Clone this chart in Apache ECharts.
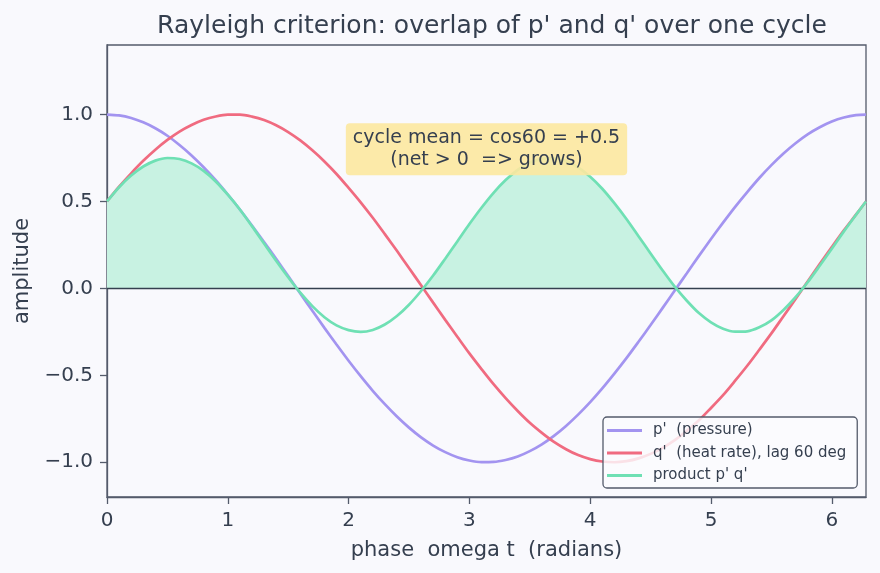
<!DOCTYPE html>
<html>
<head>
<meta charset="utf-8">
<script src="https://cdn.jsdelivr.net/npm/echarts@6/dist/echarts.min.js"></script>
<style>
  html, body { margin: 0; padding: 0; background: #f9f9fd; }
  #chart { width: 880px; height: 573px; }
</style>
</head>
<body>
<div id="chart"></div>
<script>
// phase samples (radians) and values
const phase = [0, 0.1, 0.2, 0.3, 0.4, 0.5, 0.6, 0.7, 0.8, 0.9, 1.0, 1.1, 1.2, 1.3, 1.4, 1.5,
  1.6, 1.7, 1.8, 1.9, 2.0, 2.1, 2.2, 2.3, 2.4, 2.5, 2.6, 2.7, 2.8, 2.9, 3.0, 3.1,
  3.2, 3.3, 3.4, 3.5, 3.6, 3.7, 3.8, 3.9, 4.0, 4.1, 4.2, 4.3, 4.4, 4.5, 4.6, 4.7,
  4.8, 4.9, 5.0, 5.1, 5.2, 5.3, 5.4, 5.5, 5.6, 5.7, 5.8, 5.9, 6.0, 6.1, 6.2, 6.283];
const pressure = [1.000, 0.995, 0.980, 0.955, 0.921, 0.878, 0.825, 0.765, 0.697, 0.622, 0.540,
  0.454, 0.362, 0.267, 0.170, 0.071, -0.029, -0.129, -0.227, -0.323, -0.416, -0.505,
  -0.589, -0.666, -0.737, -0.801, -0.857, -0.904, -0.942, -0.971, -0.990, -0.999,
  -0.998, -0.987, -0.967, -0.936, -0.897, -0.848, -0.791, -0.726, -0.654, -0.575,
  -0.490, -0.401, -0.307, -0.211, -0.112, -0.012, 0.087, 0.187, 0.284, 0.378,
  0.469, 0.554, 0.635, 0.709, 0.776, 0.835, 0.886, 0.927, 0.960, 0.983, 0.997, 1.000];
const heatRate = [0.500, 0.585, 0.662, 0.734, 0.798, 0.854, 0.902, 0.940, 0.970, 0.989, 0.999,
  0.999, 0.988, 0.968, 0.938, 0.899, 0.851, 0.794, 0.730, 0.658, 0.578, 0.495,
  0.406, 0.312, 0.216, 0.117, 0.018, -0.082, -0.181, -0.278, -0.374, -0.464,
  -0.551, -0.631, -0.705, -0.773, -0.831, -0.883, -0.925, -0.959, -0.982, -0.996,
  -1.000, -0.994, -0.978, -0.952, -0.917, -0.873, -0.819, -0.759, -0.688, -0.614,
  -0.531, -0.445, -0.353, -0.259, -0.160, -0.061, 0.040, 0.140, 0.238, 0.334, 0.424, 0.500];
const product = [0.500, 0.582, 0.649, 0.701, 0.735, 0.750, 0.744, 0.719, 0.676, 0.615, 0.539,
  0.454, 0.358, 0.258, 0.159, 0.064, -0.025, -0.102, -0.166, -0.213, -0.240, -0.250,
  -0.239, -0.208, -0.159, -0.094, -0.015, 0.074, 0.171, 0.270, 0.370, 0.464,
  0.550, 0.623, 0.682, 0.724, 0.745, 0.749, 0.732, 0.696, 0.642, 0.573,
  0.490, 0.399, 0.300, 0.201, 0.103, 0.010, -0.071, -0.142, -0.195, -0.232,
  -0.249, -0.247, -0.224, -0.184, -0.124, -0.051, 0.035, 0.130, 0.228, 0.328, 0.423, 0.500];

const seriesNames = ["p'  (pressure)", "q'  (heat rate), lag 60 deg", "product p' q'"];
const xTicks = [0, 1, 2, 3, 4, 5, 6];
const yTicks = [-1, -0.5, 0, 0.5, 1];
const noteLines = ['cycle mean = cos60 = +0.5', '(net > 0  => grows)'];
const notePos = [3.1416, 0.80];

const FONT = 'DejaVu Sans';
const TEXT = '#353f4f';
const AXIS = '#545b6b';
const FILL = '#c8f2e2';

const pairs = ys => phase.map((x, i) => [x, ys[i]]);
const fmtY = v => (v < 0 ? '\u2212' : '') + Math.abs(v).toFixed(1);

const chart = echarts.init(document.getElementById('chart'));

chart.setOption({
  backgroundColor: '#f9f9fd',
  animation: false,
  textStyle: { fontFamily: FONT, color: TEXT },
  title: {
    text: "Rayleigh criterion: overlap of p' and q' over one cycle",
    left: 487,
    textAlign: 'center',
    top: 9,
    textStyle: { fontFamily: FONT, fontSize: 25, fontWeight: 'normal', color: TEXT }
  },
  grid: {
    left: 107, right: 14, top: 45, bottom: 76,
    show: true,
    borderColor: AXIS,
    borderWidth: 1.3,
    backgroundColor: 'transparent'
  },
  legend: {
    data: seriesNames,
    orient: 'vertical',
    left: 603,
    top: 417,
    z: 10,
    padding: [6, 11, 5, 4],
    itemGap: 7.5,
    itemWidth: 35,
    itemHeight: 3,
    icon: 'rect',
    backgroundColor: 'rgba(251,251,254,0.82)',
    borderColor: AXIS,
    borderWidth: 1.3,
    borderRadius: 4,
    textStyle: { fontFamily: FONT, fontSize: 15, color: TEXT, padding: [0, 0, 0, 6] }
  },
  xAxis: {
    type: 'value',
    min: 0,
    max: 6.2832,
    name: 'phase  omega t  (radians)',
    nameLocation: 'middle',
    nameGap: 43,
    nameTextStyle: { fontFamily: FONT, fontSize: 21, color: TEXT },
    axisLine: { show: true, onZero: false, lineStyle: { color: AXIS, width: 1.3 } },
    axisTick: { show: true, length: 7, customValues: xTicks, lineStyle: { color: AXIS, width: 1.3 } },
    axisLabel: { customValues: xTicks, fontFamily: FONT, fontSize: 20, color: TEXT, margin: 14 },
    splitLine: { show: false }
  },
  yAxis: {
    type: 'value',
    min: -1.2,
    max: 1.4,
    name: 'amplitude',
    nameLocation: 'middle',
    nameGap: 70,
    nameTextStyle: { fontFamily: FONT, fontSize: 21, color: TEXT },
    axisLine: { show: true, onZero: false, lineStyle: { color: AXIS, width: 1.3 } },
    axisTick: { show: true, length: 7, customValues: yTicks, lineStyle: { color: AXIS, width: 1.3 } },
    axisLabel: { customValues: yTicks, formatter: fmtY, fontFamily: FONT, fontSize: 20, color: TEXT, margin: 14 },
    splitLine: { show: false }
  },
  series: [
    {
      name: 'fill',
      type: 'line',
      data: pairs(product),
      smooth: 0.3,
      symbol: 'none',
      silent: true,
      lineStyle: { width: 0 },
      areaStyle: { color: FILL, opacity: 1 },
      z: 1
    },
    {
      name: seriesNames[0],
      type: 'line',
      data: pairs(pressure),
      smooth: 0.3,
      symbol: 'none',
      color: '#a394f0',
      lineStyle: { width: 2.7, color: '#a394f0' },
      z: 3
    },
    {
      name: seriesNames[1],
      type: 'line',
      data: pairs(heatRate),
      smooth: 0.3,
      symbol: 'none',
      color: '#f06b80',
      lineStyle: { width: 2.7, color: '#f06b80' },
      z: 4
    },
    {
      name: seriesNames[2],
      type: 'line',
      data: pairs(product),
      smooth: 0.3,
      symbol: 'none',
      color: '#6fe0b4',
      lineStyle: { width: 2.7, color: '#6fe0b4' },
      z: 5,
      markLine: {
        silent: true,
        symbol: 'none',
        label: { show: false },
        lineStyle: { color: '#34404f', width: 1.3, type: 'solid' },
        data: [{ yAxis: 0 }]
      }
    }
  ]
});

// fill only the positive part: a gradient in pixel space that turns clear at y = 0
const topPx = chart.convertToPixel({ gridIndex: 0 }, [0, 1.4])[1];
const zeroPx = chart.convertToPixel({ gridIndex: 0 }, [0, 0])[1];
const botPx = chart.convertToPixel({ gridIndex: 0 }, [0, -1.2])[1];
const cut = (zeroPx - topPx) / (botPx - topPx);
const notePx = chart.convertToPixel({ gridIndex: 0 }, notePos);

chart.setOption({
  series: [{
    name: 'fill',
    areaStyle: {
      opacity: 1,
      color: new echarts.graphic.LinearGradient(0, topPx, 0, botPx, [
        { offset: 0, color: FILL },
        { offset: cut, color: FILL },
        { offset: cut, color: 'rgba(249,249,253,0)' },
        { offset: 1, color: 'rgba(249,249,253,0)' }
      ], true)
    }
  }],
  graphic: [{
    type: 'text',
    x: notePx[0],
    y: notePx[1],
    z: 20,
    style: {
      text: noteLines.join('\n'),
      font: '19px "DejaVu Sans"',
      fill: TEXT,
      align: 'center',
      verticalAlign: 'middle',
      lineHeight: 22,
      backgroundColor: 'rgba(252, 232, 160, 0.9)',
      borderRadius: 4,
      padding: [4, 7, 4, 7]
    }
  }]
});
</script>
</body>
</html>
